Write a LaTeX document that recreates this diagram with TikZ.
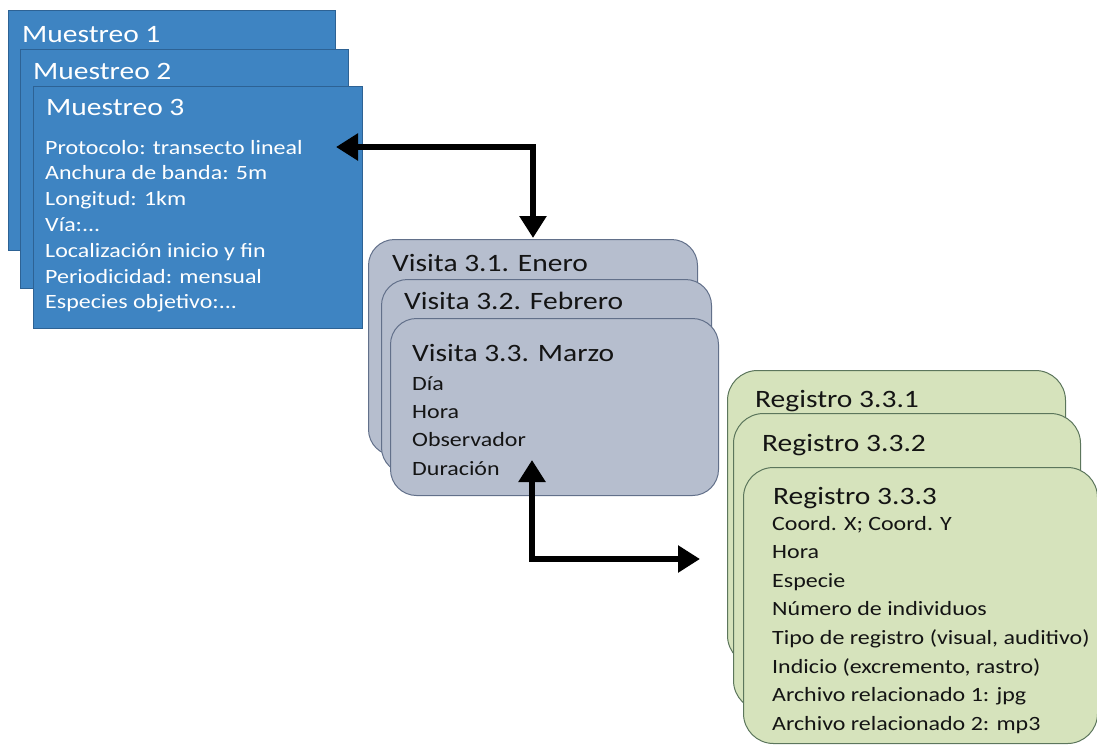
\documentclass[tikz,border=0pt]{standalone}
\usepackage{fontspec}
\setmainfont{Carlito}[FakeStretch=1.18]
\usetikzlibrary{arrows.meta}
\definecolor{mfill}{RGB}{62,132,194}
\definecolor{mdraw}{RGB}{45,98,148}
\definecolor{vfill}{RGB}{182,190,206}
\definecolor{vdraw}{RGB}{98,112,138}
\definecolor{rfill}{RGB}{214,227,188}
\definecolor{rdraw}{RGB}{92,118,92}
\definecolor{txt}{RGB}{20,20,20}
% three full stops, kept out of the reach of \foreach's "..." syntax
\newcommand{\trespuntos}{...}
\begin{document}
\begin{tikzpicture}[x=1pt,y=-1pt,
  muestreo/.style={draw=mdraw, fill=mfill, line width=1pt, inner sep=0pt, anchor=north west},
  visita/.style={draw=vdraw, fill=vfill, line width=1pt, inner sep=0pt, anchor=north west, rounded corners=26pt},
  registro/.style={draw=rdraw, fill=rfill, line width=1pt, inner sep=0pt, anchor=north west, rounded corners=30pt},
  ttl/.style={inner sep=0pt, anchor=base west, font=\fontsize{25}{30}\selectfont},
  body/.style={inner sep=0pt, anchor=base west, font=\fontsize{20.3}{24}\selectfont},
  conn/.style={line width=6pt, draw=black,
    arrows={Triangle[length=22pt,width=26pt]-Triangle[length=22pt,width=26pt]}}
]
\useasboundingbox (0,0) rectangle (1097,745);

% --- Muestreos (stacked blue sheets)
\node[muestreo, minimum width=327pt, minimum height=240pt] (m1) at (8,10) {};
\node[ttl, white] (m1t) at (22,42) {Muestreo 1};
\node[muestreo, minimum width=328pt, minimum height=239pt] (m2) at (20,49) {};
\node[ttl, white] (m2t) at (33,79) {Muestreo 2};
\node[muestreo, minimum width=329pt, minimum height=242pt] (m3) at (33,86) {};
\node[ttl, white] (m3t) at (46,115) {Muestreo 3};
\foreach \t [count=\i] in {Protocolo: transecto lineal, Anchura de banda: 5m,
    Longitud: 1km, Vía:\trespuntos, Localización inicio y fin, Periodicidad: mensual,
    Especies objetivo:\trespuntos}
  \node[body, white] (m3b\i) at (45,{154+(\i-1)*25.8}) {\t};

% --- Visitas (stacked grey sheets)
\node[visita, minimum width=329pt, minimum height=216pt] (v1) at (368,239) {};
\node[ttl, txt] (v1t) at (392,271) {Visita 3.1. Enero};
\node[visita, minimum width=330pt, minimum height=194pt] (v2) at (381,279) {};
\node[ttl, txt] (v2t) at (404,309) {Visita 3.2. Febrero};
\node[visita, minimum width=328pt, minimum height=177pt] (v3) at (390,318) {};
\node[ttl, txt] (v3t) at (412,361) {Visita 3.3. Marzo};
\foreach \t [count=\i] in {Día, Hora, Observador, Duración}
  \node[body, txt] (v3b\i) at (412,{390+(\i-1)*28.4}) {\t};

% --- Registros (stacked green sheets)
\node[registro, minimum width=338pt, minimum height=295pt] (r1) at (727,370) {};
\node[ttl, txt] (r1t) at (755,407) {Registro 3.3.1};
\node[registro, minimum width=347pt, minimum height=297pt] (r2) at (733,413) {};
\node[ttl, txt] (r2t) at (762,451) {Registro 3.3.2};
\node[registro, minimum width=354pt, minimum height=276pt] (r3) at (743,467) {};
\node[ttl, txt] (r3t) at (773,504) {Registro 3.3.3};
\foreach \t [count=\i] in {Coord. X; Coord. Y, Hora, Especie, Número de individuos,
    {Tipo de registro (visual, auditivo)}, {Indicio (excremento, rastro)},
    Archivo relacionado 1: jpg, Archivo relacionado 2: mp3}
  \node[body, txt] (r3b\i) at (772,{530+(\i-1)*28.6}) {\t};

% --- Connectors between the levels
\coordinate (p1) at (336,147);
\coordinate (p2) at (533,238);
\draw[conn] (p1) -| (p2);
\coordinate (q1) at (532,460);
\coordinate (q2) at (700,559);
\draw[conn] (q1) |- (q2);
\end{tikzpicture}
\end{document}
